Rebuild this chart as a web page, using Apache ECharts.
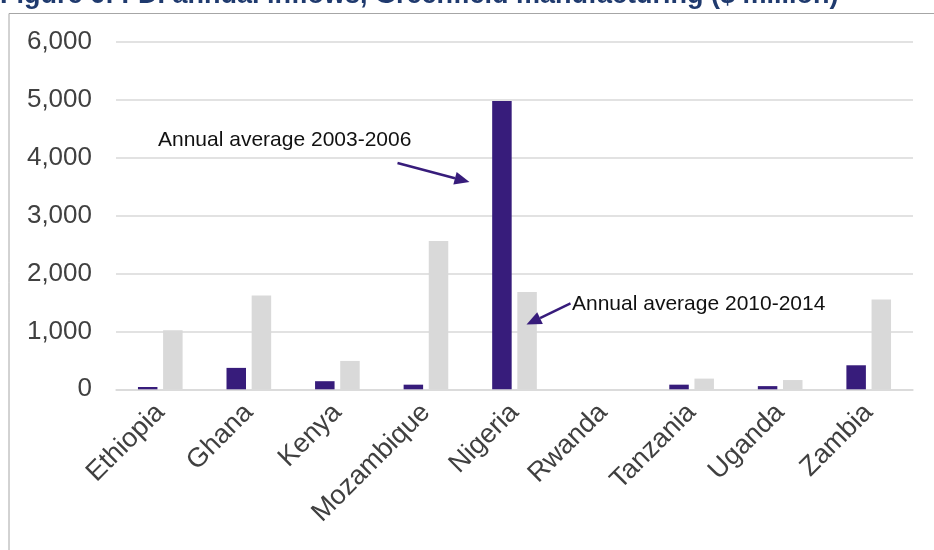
<!DOCTYPE html>
<html>
<head>
<meta charset="utf-8">
<script src="https://cdn.jsdelivr.net/npm/echarts@6/dist/echarts.min.js"></script>
<style>
html,body{margin:0;padding:0;background:#fff;}
#chart{width:934px;height:550px;}
</style>
</head>
<body>
<div id="chart"></div>
<script>
const categories = ['Ethiopia','Ghana','Kenya','Mozambique','Nigeria','Rwanda','Tanzania','Uganda','Zambia'];
const avg2003_2006 = [40, 370, 140, 80, 4980, 0, 80, 55, 415];
const avg2010_2014 = [1020, 1620, 490, 2560, 1680, 0, 185, 160, 1550];
const yTicks = [0, 1000, 2000, 3000, 4000, 5000, 6000];
const titleText = 'Figure 6: FDI annual inflows, Greenfield manufacturing ($ million)';
const label1 = 'Annual average 2003-2006';
const label2 = 'Annual average 2010-2014';

const FONT = 'Arial, "Liberation Sans", sans-serif';
const PURPLE = '#371c7b';
const GREY = '#d9d9d9';

const chart = echarts.init(document.getElementById('chart'));
chart.setOption({
  animation: false,
  backgroundColor: '#fff',
  grid: { left: 116, right: 21, top: 42, bottom: 160.7, containLabel: false },
  xAxis: {
    type: 'category',
    data: categories,
    axisTick: { show: false },
    axisLine: { show: true, lineStyle: { color: GREY, width: 1.5 } },
    axisLabel: { rotate: 45, fontSize: 27, color: '#404040', fontFamily: FONT, margin: 19, interval: 0 }
  },
  yAxis: {
    type: 'value',
    min: yTicks[0],
    max: yTicks[yTicks.length - 1],
    interval: 1000,
    axisLine: { show: false },
    axisTick: { show: false },
    splitLine: { lineStyle: { color: GREY, width: 1.5 } },
    axisLabel: {
      fontSize: 26, color: '#404040', fontFamily: FONT, margin: 24,
      formatter: v => v.toLocaleString('en-US')
    }
  },
  series: [
    { name: label1, type: 'bar', data: avg2003_2006, barWidth: 19.5, barGap: '29%',
      itemStyle: { color: PURPLE } },
    { name: label2, type: 'bar', data: avg2010_2014, barWidth: 19.5,
      itemStyle: { color: GREY } }
  ]
});

function arrow(x1, y1, x2, y2) {
  const ang = Math.atan2(y2 - y1, x2 - x1);
  const L = 15, W = 6.5;
  const bx = x2 - L * Math.cos(ang), by = y2 - L * Math.sin(ang);
  const px = -Math.sin(ang) * W, py = Math.cos(ang) * W;
  return [
    { type: 'line', shape: { x1: x1, y1: y1, x2: bx, y2: by }, style: { stroke: PURPLE, lineWidth: 2.5 }, z: 10 },
    { type: 'polygon', shape: { points: [[x2, y2], [bx + px, by + py], [bx - px, by - py]] }, style: { fill: PURPLE }, z: 10 }
  ];
}

// anchor annotations to the Nigeria bars through the axes
const nIdx = categories.indexOf('Nigeria');
const c1 = chart.convertToPixel({ gridIndex: 0 }, [nIdx, 3580]);
const c2 = chart.convertToPixel({ gridIndex: 0 }, [nIdx, 1120]);
const tip1 = [c1[0] - 45, c1[1]];
const tip2 = [c2[0] + 12, c2[1]];

chart.setOption({
  graphic: [
    { type: 'text', x: 0, y: 9, style: { text: titleText, font: 'bold 27px ' + FONT, fill: '#1f3a6e', verticalAlign: 'bottom', align: 'left' }, silent: true },
    { type: 'polyline', shape: { points: [[9, 560], [9, 13.5], [945, 13.5]] }, style: { stroke: '#a6a6a6', lineWidth: 1, fill: null }, silent: true },
    { type: 'text', x: 158, y: 140, style: { text: label1, font: '21px ' + FONT, fill: '#111', verticalAlign: 'middle' } },
    { type: 'text', x: 572, y: 304, style: { text: label2, font: '21px ' + FONT, fill: '#111', verticalAlign: 'middle' } },
    ...arrow(tip1[0] - 72, tip1[1] - 19, tip1[0], tip1[1]),
    ...arrow(tip2[0] + 44, tip2[1] - 21, tip2[0], tip2[1])
  ]
});
</script>
</body>
</html>
